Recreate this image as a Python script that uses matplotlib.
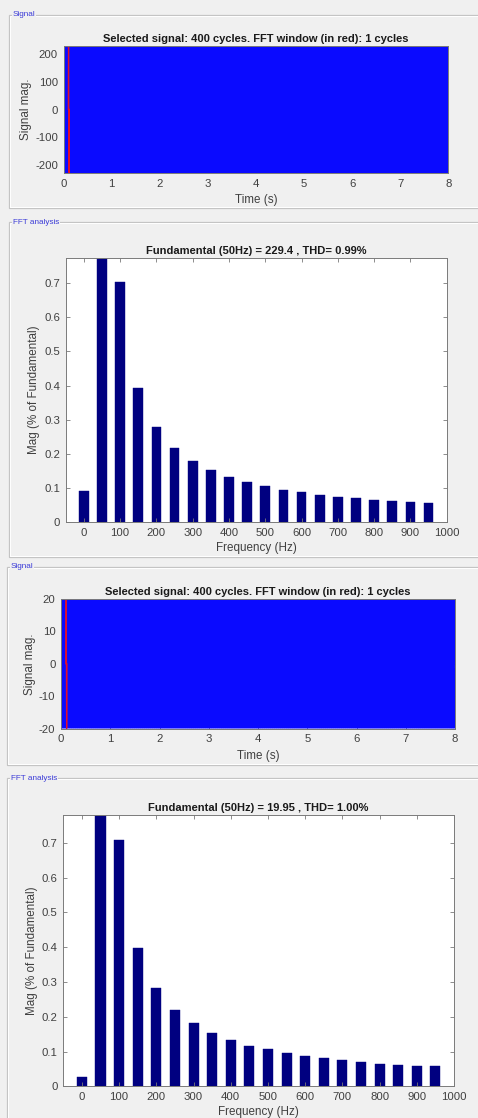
import numpy as np
import matplotlib
matplotlib.use("Agg")
import matplotlib.pyplot as plt
from matplotlib.patches import Rectangle

plt.rcParams['font.family'] = ['Liberation Sans', 'DejaVu Sans']
plt.rcParams['axes.unicode_minus'] = False

# ---------------- data ----------------
freqs = [0, 50, 100, 150, 200, 250, 300, 350, 400, 450, 500,
         550, 600, 650, 700, 750, 800, 850, 900, 950]
mag1 = [0.092, 100, 0.704, 0.394, 0.280, 0.218, 0.179, 0.152, 0.133, 0.118,
        0.105, 0.0955, 0.088, 0.081, 0.075, 0.070, 0.065, 0.061, 0.058, 0.056]
mag2 = [0.028, 100, 0.709, 0.398, 0.283, 0.2205, 0.182, 0.154, 0.133, 0.117,
        0.108, 0.096, 0.088, 0.082, 0.076, 0.071, 0.065, 0.061, 0.058, 0.057]
fund1 = 229.4
fund2 = 19.95
title1 = "Fundamental (50Hz) = 229.4 , THD= 0.99%"
title2 = "Fundamental (50Hz) = 19.95 , THD= 1.00%"
sig_title = "Selected signal: 400 cycles. FFT window (in red): 1 cycles"
duration = 8.0
fs = 5000
win_start, win_len = 0.1, 0.02
sig_yticks1 = [-200, -100, 0, 100, 200]
sig_yticks2 = [-20, -10, 0, 10, 20]
time_ticks = list(range(0, 9))
fft_xticks = list(range(0, 1001, 100))
fft_yticks = [0, 0.1, 0.2, 0.3, 0.4, 0.5, 0.6, 0.7]

W, H = 478, 1118
fig = plt.figure(figsize=(W / 100, H / 100), dpi=100)
fig.patch.set_facecolor('#f0f0f0')

def ax_at(l, t, r, b):
    return fig.add_axes([l / W, 1 - b / H, (r - l) / W, (b - t) / H])

def group_box(x0, y0, x1, y1, label):
    fig.add_artist(Rectangle((x0 / W, 1 - y1 / H), (x1 - x0) / W, (y1 - y0) / H,
                             transform=fig.transFigure, fill=False,
                             edgecolor='#c4c4c4', linewidth=0.9))
    fig.add_artist(Rectangle(((x0 + 1) / W, 1 - (y1 - 1) / H), (x1 - x0) / W, (y1 - y0 - 2) / H,
                             transform=fig.transFigure, fill=False,
                             edgecolor='#ffffff', linewidth=0.7))
    fig.text((x0 + 4) / W, 1 - y0 / H, label, fontsize=5.9, color='#3c3cd8',
             va='center', ha='left',
             bbox=dict(facecolor='#f0f0f0', edgecolor='none', pad=0.6))

group_box(9, 15, 500, 208, "Signal")
group_box(9, 222, 500, 557, "FFT analysis")
group_box(7, 567, 500, 765, "Signal")
group_box(7, 778, 500, 1140, "FFT analysis")

tick_color = '#404040'
edge_color = '#7a7a7a'

def style(ax):
    ax.tick_params(direction='in', length=3, width=0.6, top=True, right=True,
                   labelsize=8.2, colors=edge_color, labelcolor=tick_color, pad=4)
    for s in ax.spines.values():
        s.set_color(edge_color)
        s.set_linewidth(0.7)

def signal_panel(box, amp, mags, yticks, ylim):
    ax = ax_at(*box)
    t = np.arange(0, duration, 1 / fs)
    y = np.zeros_like(t)
    for f, m in zip(freqs, mags):
        if f == 0:
            y += amp * m / 100
        else:
            y += amp * m / 100 * np.sin(2 * np.pi * f * t)
    ax.plot(t, y, color='#0a0aff', linewidth=0.45)
    sel = (t >= win_start) & (t <= win_start + win_len)
    ax.plot(t[sel], y[sel], color='#e0102a', linewidth=0.9)
    ax.set_xlim(0, duration)
    ax.set_ylim(*ylim)
    ax.set_xticks(time_ticks)
    ax.set_yticks(yticks)
    ax.set_facecolor('white')
    style(ax)
    ax.set_title(sig_title, fontsize=8.0, fontweight='bold', color='#1a1a1a', pad=3)
    ax.set_xlabel("Time (s)", fontsize=8.4, color=tick_color, labelpad=4)
    ax.set_ylabel("Signal mag.", fontsize=8.4, color=tick_color, labelpad=2)
    return ax

def fft_panel(box, mags, ttl, ytop):
    ax = ax_at(*box)
    ax.bar(freqs, mags, width=27, color='#000080', edgecolor='#000080', linewidth=0.3)
    ax.set_xlim(-50, 1000)
    ax.set_ylim(0, ytop)
    ax.set_xticks(fft_xticks)
    ax.set_yticks(fft_yticks)
    ax.set_yticklabels(['0'] + [f"{v:g}" for v in fft_yticks[1:]])
    ax.set_facecolor('white')
    style(ax)
    ax.set_title(ttl, fontsize=8.0, fontweight='bold', color='#1a1a1a', pad=3)
    ax.set_xlabel("Frequency (Hz)", fontsize=8.4, color=tick_color, labelpad=3)
    ax.set_ylabel("Mag (% of Fundamental)", fontsize=8.4, color=tick_color, labelpad=3)
    return ax

signal_panel((63.5, 45.7, 448.3, 173.3), fund1, mag1, sig_yticks1, (-230.5, 230.5))
fft_panel((65.7, 257.7, 446.7, 522.3), mag1, title1, 0.774)
signal_panel((61, 599, 455, 728.7), fund2, mag2, sig_yticks2, (-20, 20))
fft_panel((63.3, 815.3, 454, 1086.3), mag2, title2, 0.7795)

fig.savefig("out.png", dpi=100, facecolor=fig.get_facecolor())
